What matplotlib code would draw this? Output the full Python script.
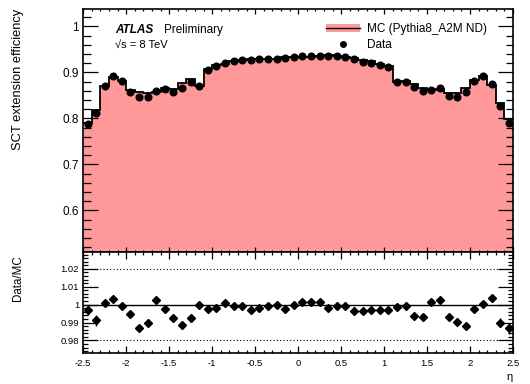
import numpy as np
import matplotlib
matplotlib.use("Agg")
import matplotlib.pyplot as plt
from matplotlib.ticker import MultipleLocator, FormatStrFormatter
from matplotlib.patches import Patch
from matplotlib.lines import Line2D

plt.rcParams['font.family'] = ['Liberation Sans', 'DejaVu Sans']
plt.rcParams['axes.unicode_minus'] = False

# %%
# eta binning, 50 bins of 0.1
eta_edges = np.linspace(-2.5, 2.5, 51)
eta_centers = 0.5 * (eta_edges[:-1] + eta_edges[1:])

mc_eff = [0.789, 0.818, 0.870, 0.889, 0.882, 0.862, 0.858, 0.856, 0.858, 0.865,
          0.863, 0.877, 0.885, 0.871, 0.907, 0.916, 0.919, 0.925, 0.927, 0.930,
          0.930, 0.930, 0.930, 0.933, 0.933, 0.933, 0.934, 0.935, 0.938, 0.936,
          0.934, 0.932, 0.926, 0.924, 0.919, 0.914, 0.879, 0.881, 0.875, 0.866,
          0.861, 0.863, 0.855, 0.855, 0.867, 0.884, 0.893, 0.872, 0.834, 0.799]

data_eff = [0.787, 0.811, 0.871, 0.892, 0.882, 0.858, 0.847, 0.847, 0.860, 0.863,
            0.857, 0.867, 0.878, 0.871, 0.905, 0.914, 0.920, 0.924, 0.926, 0.927,
            0.928, 0.929, 0.930, 0.931, 0.933, 0.935, 0.935, 0.936, 0.936, 0.935,
            0.933, 0.929, 0.923, 0.921, 0.916, 0.911, 0.878, 0.880, 0.869, 0.860,
            0.862, 0.865, 0.849, 0.847, 0.857, 0.882, 0.893, 0.875, 0.826, 0.790]

ratio = [0.9970, 0.9913, 1.0008, 1.0034, 0.9995, 0.9950, 0.9868, 0.9898, 1.0026, 0.9978,
         0.9927, 0.9885, 0.9924, 0.9997, 0.9976, 0.9980, 1.0008, 0.9990, 0.9994, 0.9970,
         0.9980, 0.9994, 0.9998, 0.9976, 0.9998, 1.0017, 1.0013, 1.0013, 0.9983, 0.9991,
         0.9991, 0.9965, 0.9967, 0.9969, 0.9972, 0.9972, 0.9987, 0.9991, 0.9937, 0.9930,
         1.0013, 1.0024, 0.9933, 0.9902, 0.9881, 0.9974, 1.0004, 1.0037, 0.9898, 0.9868]

ratio_err = [0.0030, 0.0030] + [0.0008] * 46 + [0.0025, 0.0030]
data_err = [0.0025, 0.0025] + [0.0007] * 46 + [0.0022, 0.0025]

mc_color = '#ff9999'

# %%
fig = plt.figure(figsize=(5.3, 3.84), dpi=100)
ax1 = fig.add_axes([0.157, 0.344, 0.811, 0.633])
ax2 = fig.add_axes([0.157, 0.081, 0.811, 0.263], sharex=ax1)

ax1.stairs(mc_eff, eta_edges, fill=True, color=mc_color, baseline=0, zorder=1)
ax1.stairs(mc_eff, eta_edges, baseline=None, color='k', lw=1.3, zorder=2)
ax1.errorbar(eta_centers, data_eff, yerr=data_err, fmt='o', color='k',
             ms=4.8, elinewidth=1, capsize=0, zorder=3)

ax1.set_xlim(-2.5, 2.5)
ax1.set_ylim(0.51, 1.038)

ax1.text(0.074, 0.912, 'ATLAS', transform=ax1.transAxes, fontsize=8.5,
         fontweight='bold', fontstyle='italic', va='center')
ax1.text(0.188, 0.912, 'Preliminary', transform=ax1.transAxes, fontsize=8.5,
         va='center')
ax1.text(0.074, 0.850, '\u221as = 8 TeV', transform=ax1.transAxes, fontsize=8,
         va='center')

mc_handle = (Patch(facecolor=mc_color, edgecolor='none'), Line2D([], [], color='k', lw=1))
data_handle = Line2D([], [], marker='o', ls='none', color='k', ms=4)
ax1.legend([mc_handle, data_handle], ['MC (Pythia8_A2M ND)', 'Data'],
           loc='upper left', bbox_to_anchor=(0.566, 0.94), frameon=False,
           fontsize=8.5, handlelength=2.8, handletextpad=0.6, labelspacing=0.3,
           borderpad=0, borderaxespad=0)

ax1.set_ylabel('SCT extension efficiency', loc='top', fontsize=9.3)
ax1.yaxis.set_label_coords(-0.138, 1.0)

ax1.xaxis.set_major_locator(MultipleLocator(0.5))
ax1.xaxis.set_minor_locator(MultipleLocator(0.1))
ax1.yaxis.set_major_locator(MultipleLocator(0.1))
ax1.yaxis.set_minor_locator(MultipleLocator(0.02))
ax1.yaxis.set_major_formatter(FormatStrFormatter('%g'))
ax1.tick_params(which='both', direction='in', top=True, right=True, labelbottom=False)
ax1.tick_params(axis='y', which='major', length=10.8, width=0.9, labelsize=8.5, pad=3)
ax1.tick_params(axis='y', which='minor', length=5.4, width=0.9)
ax1.tick_params(axis='x', which='major', length=3.3, width=0.9)
ax1.tick_params(axis='x', which='minor', length=1.7, width=0.9)

# ratio panel
ax2.axhline(1.0, color='k', lw=1, zorder=1)
ax2.axhline(0.98, color='k', lw=0.8, ls=(0, (1, 2)), zorder=1)
ax2.axhline(1.02, color='k', lw=0.8, ls=(0, (1, 2)), zorder=1)
ax2.errorbar(eta_centers, ratio, yerr=ratio_err, fmt='D', color='k',
             ms=3.6, elinewidth=1, capsize=0, zorder=3)

ax2.set_ylim(0.973, 1.0295)
ax2.yaxis.set_major_locator(MultipleLocator(0.01))
ax2.yaxis.set_minor_locator(MultipleLocator(0.002))
ax2.yaxis.set_major_formatter(FormatStrFormatter('%g'))
ax2.xaxis.set_major_formatter(FormatStrFormatter('%g'))
ax2.tick_params(which='both', direction='in', top=True, right=True)
ax2.tick_params(axis='y', which='major', length=10.8, width=0.9, labelsize=6.8, pad=3)
ax2.tick_params(axis='y', which='minor', length=3.6, width=0.9)
ax2.tick_params(axis='x', which='major', length=5, width=0.9, labelsize=6.8, pad=4.5)
ax2.tick_params(axis='x', which='minor', length=2.5, width=0.9)

ax2.set_ylabel('Data/MC', loc='top', fontsize=8.3)
ax2.yaxis.set_label_coords(-0.138, 0.97)
ax2.set_xlabel('\u03b7', loc='right', fontsize=8, labelpad=3)

for ax in (ax1, ax2):
    for sp in ax.spines.values():
        sp.set_linewidth(1.2)

fig.savefig('out.png', dpi=100)
